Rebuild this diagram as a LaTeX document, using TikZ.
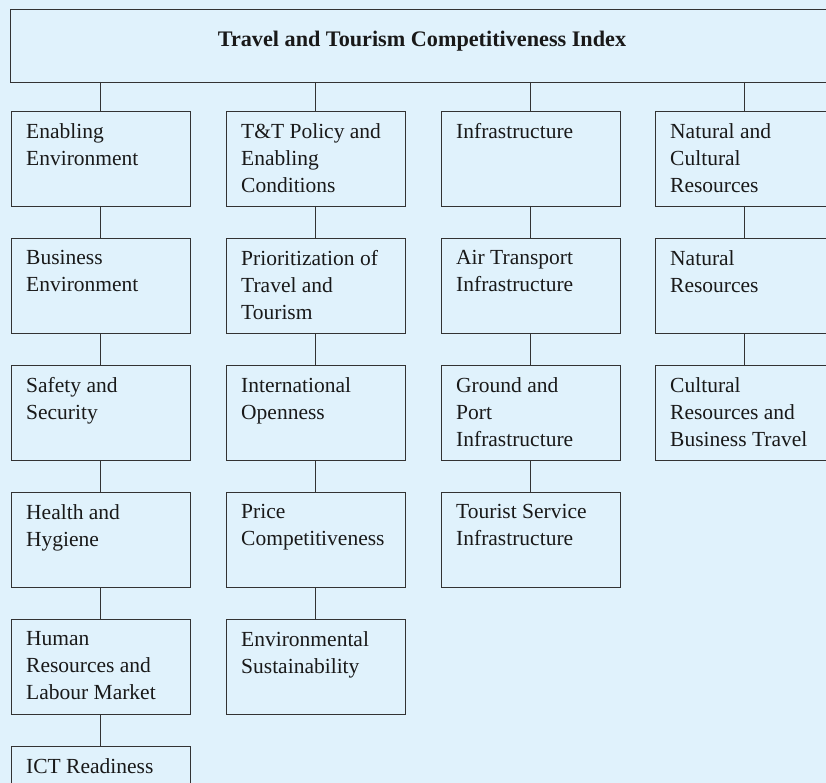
\documentclass[tikz,border=0pt]{standalone}
\usepackage{fontspec}
\setmainfont{Liberation Serif}
\definecolor{bgc}{RGB}{224,242,252}
\definecolor{linec}{RGB}{51,51,51}
\definecolor{txtc}{RGB}{25,25,25}
\begin{document}
\begin{tikzpicture}[x=1pt,y=-1pt,
  box/.style={draw=linec, line width=0.9pt, fill=bgc, rectangle, anchor=north west, minimum width=179pt, minimum height=95pt, inner sep=0pt, outer sep=0pt},
  lbl/.style={anchor=north west, inner sep=0pt, align=left, text=txtc, font=\fontsize{21.5}{27}\selectfont},
  conn/.style={draw=linec, line width=1pt}]
\useasboundingbox (0,0) rectangle (826,783);
\clip (0,0) rectangle (826,783);
\fill[bgc] (0,0) rectangle (826,783);
\node[box, minimum width=824pt, minimum height=73pt] (top) at (10,9) {};
\node[anchor=base, inner sep=0pt, text=txtc, font=\fontsize{22.2}{26}\selectfont\bfseries] (title) at (422,46.5) {Travel and Tourism Competitiveness Index};
% column 1
\node[box] (a1) at (11,111) {};
\node[box] (a2) at (11,238) {};
\node[box] (a3) at (11,365) {};
\node[box] (a4) at (11,492) {};
\node[box] (a5) at (11,619) {};
\node[box] (a6) at (11,746) {};
% column 2
\node[box] (b1) at (226,111) {};
\node[box] (b2) at (226,238) {};
\node[box] (b3) at (226,365) {};
\node[box] (b4) at (226,492) {};
\node[box] (b5) at (226,619) {};
% column 3
\node[box] (c1) at (441,111) {};
\node[box] (c2) at (441,238) {};
\node[box] (c3) at (441,365) {};
\node[box] (c4) at (441,492) {};
% column 4
\node[box] (d1) at (655,111) {};
\node[box] (d2) at (655,238) {};
\node[box] (d3) at (655,365) {};
% labels
\foreach \n/\t in {a1/{Enabling\\Environment}, a2/{Business\\Environment}, a3/{Safety and\\Security}, a4/{Health and\\Hygiene}, a5/{Human\\Resources and\\Labour Market}, a6/{ICT Readiness},
  b1/{T\&T Policy and\\Enabling\\Conditions}, b2/{Prioritization of\\Travel and\\Tourism}, b3/{International\\Openness}, b4/{Price\\Competitiveness}, b5/{Environmental\\Sustainability},
  c1/{Infrastructure}, c2/{Air Transport\\Infrastructure}, c3/{Ground and\\Port\\Infrastructure}, c4/{Tourist Service\\Infrastructure},
  d1/{Natural and\\Cultural\\Resources}, d2/{Natural\\Resources}, d3/{Cultural\\Resources and\\Business Travel}}
  \node[lbl] (\n-t) at ([xshift=15pt,yshift=-12pt]\n.north west) {\t};
% connectors
\foreach \n in {a1,b1,c1,d1}
  \draw[conn] (top.south -| \n.north) -- (\n.north);
\draw[conn] (a1) -- (a2); \draw[conn] (a2) -- (a3); \draw[conn] (a3) -- (a4); \draw[conn] (a4) -- (a5); \draw[conn] (a5) -- (a6);
\draw[conn] (b1) -- (b2); \draw[conn] (b2) -- (b3); \draw[conn] (b3) -- (b4); \draw[conn] (b4) -- (b5);
\draw[conn] (c1) -- (c2); \draw[conn] (c2) -- (c3); \draw[conn] (c3) -- (c4);
\draw[conn] (d1) -- (d2); \draw[conn] (d2) -- (d3);
\end{tikzpicture}
\end{document}
